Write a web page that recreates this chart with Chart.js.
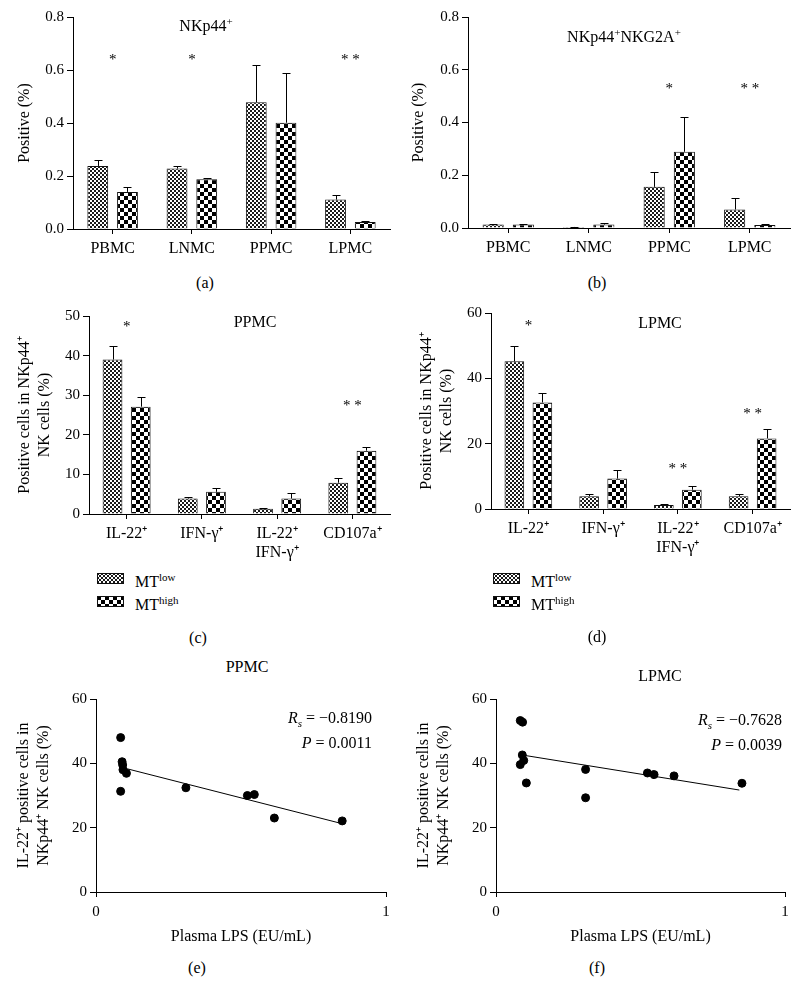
<!DOCTYPE html>
<html>
<head>
<meta charset="utf-8">
<script src="https://cdn.jsdelivr.net/npm/chart.js@4.4.0/dist/chart.umd.min.js"></script>
<style>
  body { margin: 0; background: #fff; }
  #page { position: relative; width: 800px; height: 985px; font-family: 'Liberation Serif', 'DejaVu Serif', serif; color: #000; }
  canvas { position: absolute; }
  .lbl { position: absolute; transform: translate(-50%, -50%); font-size: 16px; white-space: nowrap; }
  .lbl sup, .leg sup { font-size: 11px; vertical-align: 6px; line-height: 0; }
  .leg { position: absolute; font-size: 16px; line-height: 15px; white-space: nowrap; }
  .stat { position: absolute; font-size: 16px; text-align: right; line-height: 20px; }
</style>
</head>
<body>
<div id="page">
  <canvas id="chA" width="400" height="262" style="left:0;top:0"></canvas>
  <canvas id="chB" width="400" height="262" style="left:400px;top:0"></canvas>
  <canvas id="chC" width="400" height="268" style="left:0;top:300px"></canvas>
  <canvas id="chD" width="400" height="268" style="left:400px;top:300px"></canvas>
  <canvas id="chE" width="400" height="270" style="left:0;top:680px"></canvas>
  <canvas id="chF" width="400" height="270" style="left:400px;top:680px"></canvas>

  <div class="lbl" style="left:206px;top:26px">NKp44<sup>+</sup></div>
  <div class="lbl" style="left:624px;top:37px">NKp44<sup>+</sup>NKG2A<sup>+</sup></div>
  <div class="lbl" style="left:255px;top:322px">PPMC</div>
  <div class="lbl" style="left:660px;top:323px">LPMC</div>
  <div class="lbl" style="left:247px;top:667px">PPMC</div>
  <div class="lbl" style="left:660px;top:676px">LPMC</div>

  <div class="lbl" style="left:205px;top:283px">(a)</div>
  <div class="lbl" style="left:597px;top:283px">(b)</div>
  <div class="lbl" style="left:198px;top:638px">(c)</div>
  <div class="lbl" style="left:597px;top:637px">(d)</div>
  <div class="lbl" style="left:197px;top:968px">(e)</div>
  <div class="lbl" style="left:597px;top:968px">(f)</div>

  <div id="legC"></div>
  <div id="legD"></div>

  <div class="stat" style="right:428px;top:708px"><i>R<sub style="font-size:11px">s</sub></i> = −0.8190<br><i>P</i> = 0.0011</div>
  <div class="stat" style="right:18px;top:710px"><i>R<sub style="font-size:11px">s</sub></i> = −0.7628<br><i>P</i> = 0.0039</div>
</div>

<script>
// categories
const catsAB = ['PBMC', 'LNMC', 'PPMC', 'LPMC'];
const catsCD = ['IL-22⁺', 'IFN-γ⁺', ['IL-22⁺', 'IFN-γ⁺'], 'CD107a⁺'];
const seriesNames = ['MT low', 'MT high'];

// (a) NKp44+
const aLow = [0.238, 0.228, 0.478, 0.111];
const aLowErr = [0.024, 0.010, 0.142, 0.019];
const aHigh = [0.140, 0.188, 0.401, 0.026];
const aHighErr = [0.019, 0.006, 0.187, 0.004];
const aStars = ['*', '*', '', '* *'];
const aStarY = [0.65, 0.65, 0, 0.65];

// (b) NKp44+NKG2A+
const bLow = [0.013, 0.004, 0.156, 0.070];
const bLowErr = [0.002, 0.001, 0.057, 0.044];
const bHigh = [0.013, 0.013, 0.289, 0.011];
const bHighErr = [0.002, 0.006, 0.133, 0.005];
const bStars = ['', '', '*', '* *'];
const bStarY = [0, 0, 0.54, 0.54];

// (c) PPMC
const cLow = [39.0, 3.9, 1.3, 7.9];
const cLowErr = [3.4, 0.4, 0.2, 1.3];
const cHigh = [27.1, 5.6, 3.9, 16.0];
const cHighErr = [2.4, 1.0, 1.3, 0.8];
const cStars = ['*', '', '', '* *'];
const cStarY = [48, 0, 0, 28];

// (d) LPMC
const dLow = [45.2, 3.9, 1.2, 3.9];
const dLowErr = [4.6, 0.6, 0.3, 0.6];
const dHigh = [32.6, 9.3, 5.9, 21.6];
const dHighErr = [3.0, 2.7, 1.1, 3.0];
const dStars = ['*', '', '* *', '* *'];
const dStarY = [57, 0, 13, 30];

// (e) PPMC scatter
const eX = [0.085, 0.090, 0.092, 0.093, 0.105, 0.085, 0.310, 0.522, 0.546, 0.615, 0.849];
const eY = [48.0, 40.5, 39.5, 38.0, 36.9, 31.3, 32.4, 30.0, 30.3, 23.0, 22.1];
const eFitX = [0.09, 0.842];
const eFitY = [38.7, 21.4];

// (f) LPMC scatter
const fX = [0.084, 0.092, 0.091, 0.096, 0.084, 0.105, 0.310, 0.310, 0.524, 0.547, 0.616, 0.851];
const fY = [53.3, 52.8, 42.6, 40.9, 39.6, 33.9, 38.1, 29.3, 37.0, 36.5, 36.1, 33.8];
const fFitX = [0.09, 0.842];
const fFitY = [42.6, 31.7];

const serif = 'Liberation Serif';
const yTickFont = { family: serif, size: 15 };
const xTickFont = { family: serif, size: 16, lineHeight: 1.15 };
const titleFont = { family: serif, size: 16, lineHeight: 1.25 };

function checker(cell, dark) {
    const c = document.createElement('canvas');
    c.width = c.height = cell * 2;
    const g = c.getContext('2d');
    g.fillStyle = '#fff';
    g.fillRect(0, 0, cell * 2, cell * 2);
    g.fillStyle = dark;
    g.fillRect(0, 0, cell, cell);
    g.fillRect(cell, cell, cell, cell);
    return g.createPattern(c, 'repeat');
}
const patLow = checker(2, '#1a1a1a');
const patHigh = checker(4, '#000');

// error bars above each bar + significance stars
const extras = {
    id: 'extras',
    afterDatasetsDraw(chart, args, opts) {
        const ctx = chart.ctx;
        const ys = chart.scales.y, xs = chart.scales.x;
        ctx.save();
        ctx.strokeStyle = '#000';
        ctx.lineWidth = 1;
        (opts.errs || []).forEach((errs, di) => {
            const meta = chart.getDatasetMeta(di);
            meta.data.forEach((bar, i) => {
                const v = chart.data.datasets[di].data[i];
                const top = Math.round(ys.getPixelForValue(v + errs[i])) + 0.5;
                const x = Math.round(bar.x) + 0.5;
                ctx.beginPath();
                ctx.moveTo(x, bar.y);
                ctx.lineTo(x, top);
                ctx.moveTo(x - 4, top);
                ctx.lineTo(x + 4, top);
                ctx.stroke();
            });
        });
        if (opts.stars) {
            ctx.fillStyle = '#000';
            ctx.font = '15px ' + serif;
            ctx.textAlign = 'center';
            ctx.textBaseline = 'middle';
            opts.stars.forEach((s, i) => {
                if (!s) return;
                ctx.fillText(s, xs.getPixelForValue(i), ys.getPixelForValue(opts.starY[i]) + 3);
            });
        }
        ctx.restore();
    }
};

function barChart(id, cats, low, lowErr, high, highErr, yMax, yStep, yTitle, stars, starY, yW, xH, titlePad, pad, fmt) {
    return new Chart(document.getElementById(id), {
        type: 'bar',
        data: {
            labels: cats,
            datasets: [
                { label: seriesNames[0], data: low, backgroundColor: patLow, borderColor: '#111', borderWidth: 1 },
                { label: seriesNames[1], data: high, backgroundColor: patHigh, borderColor: '#111', borderWidth: 1 }
            ]
        },
        options: {
            responsive: false,
            animation: false,
            devicePixelRatio: 1,
            layout: { padding: pad },
            categoryPercentage: 0.75,
            barPercentage: 0.7,
            plugins: {
                legend: { display: false },
                tooltip: { enabled: false },
                extras: { errs: [lowErr, highErr], stars: stars, starY: starY }
            },
            scales: {
                x: {
                    grid: { display: true, offset: false, drawOnChartArea: false, tickLength: 5, color: '#000' },
                    border: { color: '#000' },
                    ticks: { color: '#000', font: xTickFont, padding: 6, maxRotation: 0, autoSkip: false },
                    afterFit: s => { s.height = xH; }
                },
                y: {
                    min: 0, max: yMax,
                    grid: { display: true, drawOnChartArea: false, tickLength: 6, color: '#000' },
                    border: { color: '#000' },
                    ticks: { color: '#000', font: yTickFont, stepSize: yStep, padding: 3, callback: fmt },
                    title: { display: true, text: yTitle, color: '#000', font: titleFont, padding: { top: titlePad } },
                    afterFit: s => { s.width = yW; }
                }
            }
        },
        plugins: [extras]
    });
}

function scatterChart(id, xs, ys, fitX, fitY, yTitle, pad) {
    return new Chart(document.getElementById(id), {
        type: 'scatter',
        data: {
            datasets: [
                { data: xs.map((x, i) => ({ x: x, y: ys[i] })), backgroundColor: '#000', borderColor: '#000', pointRadius: 4 },
                { type: 'line', data: fitX.map((x, i) => ({ x: x, y: fitY[i] })), borderColor: '#000', borderWidth: 1, pointRadius: 0, fill: false }
            ]
        },
        options: {
            responsive: false,
            animation: false,
            devicePixelRatio: 1,
            layout: { padding: pad },
            plugins: { legend: { display: false }, tooltip: { enabled: false } },
            scales: {
                x: {
                    type: 'linear', min: 0, max: 1,
                    grid: { display: true, drawOnChartArea: false, tickLength: 5, color: '#000' },
                    border: { color: '#000' },
                    ticks: { color: '#000', font: yTickFont, stepSize: 1, padding: 6 },
                    title: { display: true, text: 'Plasma LPS (EU/mL)', color: '#000', font: { family: serif, size: 16 }, padding: { bottom: 4 } },
                    afterFit: s => { s.height = 58; }
                },
                y: {
                    min: 0, max: 60,
                    grid: { display: true, drawOnChartArea: false, tickLength: 6, color: '#000' },
                    border: { color: '#000' },
                    ticks: { color: '#000', font: yTickFont, stepSize: 20, padding: 3 },
                    title: { display: true, text: yTitle, color: '#000', font: titleFont, padding: { top: 14 } },
                    afterFit: s => { s.width = 96; }
                }
            }
        }
    });
}

const oneDec = v => v.toFixed(1);
const yTitleCD = ['Positive cells in NKp44⁺', 'NK cells (%)'];
const yTitleEF = ['IL-22⁺ positive cells in', 'NKp44⁺ NK cells (%)'];

barChart('chA', catsAB, aLow, aLowErr, aHigh, aHighErr, 0.8, 0.2, 'Positive (%)', aStars, aStarY, 73, 33, 15, { top: 17, right: 10, left: 0, bottom: 0 }, oneDec);
barChart('chB', catsAB, bLow, bLowErr, bHigh, bHighErr, 0.8, 0.2, 'Positive (%)', bStars, bStarY, 68, 34, 9, { top: 17, right: 10, left: 0, bottom: 0 }, oneDec);
barChart('chC', catsCD, cLow, cLowErr, cHigh, cHighErr, 50, 10, yTitleCD, cStars, cStarY, 89, 54, 15, { top: 16, right: 10, left: 0, bottom: 0 });
barChart('chD', catsCD, dLow, dLowErr, dHigh, dHighErr, 60, 20, yTitleCD, dStars, dStarY, 91, 59, 17, { top: 13, right: 10, left: 0, bottom: 0 });
scatterChart('chE', eX, eY, eFitX, eFitY, yTitleEF, { top: 19, right: 14, left: 0, bottom: 0 });
scatterChart('chF', fX, fY, fFitX, fFitY, yTitleEF, { top: 19, right: 15, left: 0, bottom: 0 });

// legends below (c) and (d)
function legend(elId, left) {
    const box = document.getElementById(elId);
    [[patLow, 573, 'low'], [patHigh, 596, 'high']].forEach(([pat, top, sup]) => {
        const sw = document.createElement('canvas');
        sw.width = 27; sw.height = 11;
        sw.style.left = left + 'px';
        sw.style.top = top + 'px';
        const g = sw.getContext('2d');
        g.fillStyle = pat;
        g.fillRect(0, 0, 27, 11);
        g.strokeStyle = '#111';
        g.strokeRect(0.5, 0.5, 26, 10);
        box.appendChild(sw);
        const t = document.createElement('div');
        t.className = 'leg';
        t.style.left = (left + 38) + 'px';
        t.style.top = (top + 1) + 'px';
        t.innerHTML = 'MT<sup>' + sup + '</sup>';
        box.appendChild(t);
    });
}
legend('legC', 97);
legend('legD', 493);
</script>
</body>
</html>
